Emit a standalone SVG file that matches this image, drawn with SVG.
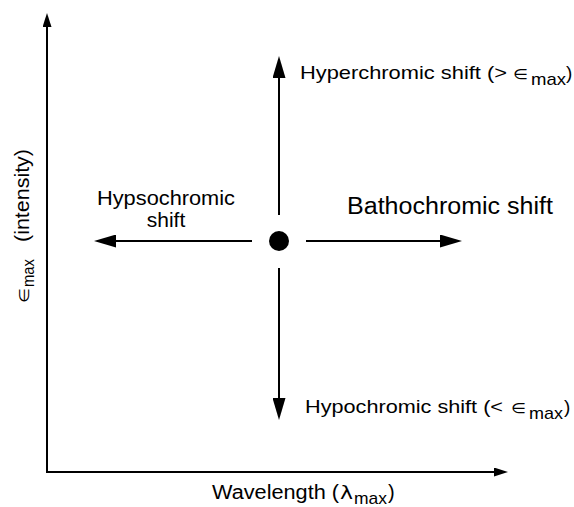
<svg xmlns="http://www.w3.org/2000/svg" width="574" height="507" viewBox="0 0 574 507">
<style>
text{font-family:"Liberation Sans",Arial,sans-serif;fill:#000}
.ax{stroke:#000;stroke-width:2;fill:none}
.ar{stroke:#000;stroke-width:2;fill:none}
.sym{font-family:"DejaVu Sans","Liberation Sans",sans-serif}
</style>
<defs>
<marker id="big" markerUnits="userSpaceOnUse" markerWidth="22" markerHeight="13" viewBox="0 0 22 13" refX="1" refY="6.5" orient="auto"><path d="M0,0 L22,6.5 L0,13 Z" fill="#000"/></marker>
<marker id="small" markerUnits="userSpaceOnUse" markerWidth="14" markerHeight="9" viewBox="0 0 14 9" refX="1" refY="4.5" orient="auto"><path d="M0,0 L14,4.5 L0,9 Z" fill="#000"/></marker>
</defs>
<g id="axes">
<line class="ax" x1="47" y1="473" x2="47" y2="26" marker-end="url(#small)"/>
<line class="ax" x1="46" y1="472" x2="495" y2="472" marker-end="url(#small)"/>
</g>
<g id="connectors">
<line class="ar" x1="279" y1="215" x2="279" y2="77" marker-end="url(#big)"/>
<line class="ar" x1="279" y1="268" x2="279" y2="399" marker-end="url(#big)"/>
<line class="ar" x1="252" y1="241" x2="115" y2="241" marker-end="url(#big)"/>
<line class="ar" x1="306" y1="241" x2="441" y2="241" marker-end="url(#big)"/>
</g>
<g id="origin"><circle cx="279" cy="241" r="10" fill="#000"/></g>
<g id="hyperchromic">
<text x="300" y="79" font-size="19" textLength="207" lengthAdjust="spacingAndGlyphs">Hyperchromic shift (&gt;</text>
<text class="sym" x="513" y="79" font-size="14" textLength="15" lengthAdjust="spacingAndGlyphs">∈</text>
<text x="531" y="85" font-size="17" textLength="35" lengthAdjust="spacingAndGlyphs">max</text>
<text x="566" y="79" font-size="19">)</text>
</g>
<g id="hypochromic">
<text x="305" y="413" font-size="19" textLength="198" lengthAdjust="spacingAndGlyphs">Hypochromic shift (&lt;</text>
<text class="sym" x="511" y="413" font-size="14" textLength="15" lengthAdjust="spacingAndGlyphs">∈</text>
<text x="529" y="419" font-size="17" textLength="34" lengthAdjust="spacingAndGlyphs">max</text>
<text x="564" y="413" font-size="19">)</text>
</g>
<g id="bathochromic">
<text x="347" y="214" font-size="23" textLength="206" lengthAdjust="spacingAndGlyphs">Bathochromic shift</text>
</g>
<g id="hypsochromic">
<text x="97" y="205" font-size="21" textLength="138" lengthAdjust="spacingAndGlyphs">Hypsochromic</text>
<text x="166" y="227" font-size="21" text-anchor="middle">shift</text>
</g>
<g id="xlabel">
<text x="212" y="499" font-size="20" textLength="127" lengthAdjust="spacingAndGlyphs">Wavelength (</text>
<text class="sym" x="340" y="499" font-size="17" textLength="13" lengthAdjust="spacingAndGlyphs">λ</text>
<text x="354" y="504" font-size="17" textLength="33" lengthAdjust="spacingAndGlyphs">max</text>
<text x="388" y="499" font-size="20">)</text>
</g>
<g id="ylabel" transform="translate(29,303) rotate(-90)">
<text class="sym" x="0" y="0" font-size="14" textLength="15" lengthAdjust="spacingAndGlyphs">∈</text>
<text x="16" y="5" font-size="17" textLength="28" lengthAdjust="spacingAndGlyphs">max</text>
<text x="61" y="0" font-size="20" textLength="93" lengthAdjust="spacingAndGlyphs">(intensity)</text>
</g>
</svg>
